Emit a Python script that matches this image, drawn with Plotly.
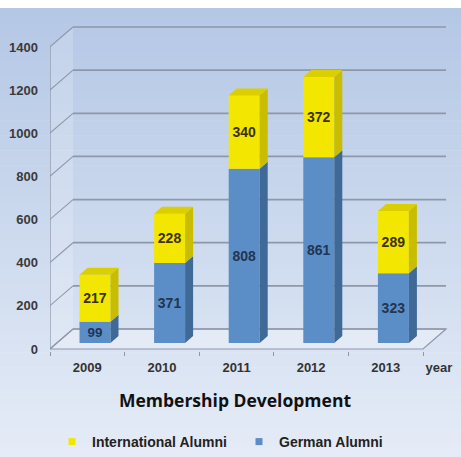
import plotly.graph_objects as go

# ---------------- data ----------------
years = ["2009", "2010", "2011", "2012", "2013"]
german = [99, 371, 808, 861, 323]
international = [217, 228, 340, 372, 289]
y_ticks = [0, 200, 400, 600, 800, 1000, 1200, 1400]
extra_label = "year"

# ---------------- geometry (pixels -> data units) ----------------
W, H = 461, 457
L, R, T, B = 50, 6, 8, 106
plot_w = W - L - R
plot_h = H - T - B
SX = 74.6          # px per category
SY = 0.2157        # px per unit value
FRONT0 = 349       # pixel row of value 0 on front plane

x_lo = -0.5
x_hi = x_lo + plot_w / SX
y_lo = (FRONT0 - (H - B)) / SY
y_hi = (FRONT0 - T) / SY

def ux(px):
    return px / SX

def uy(px):
    return px / SY

WDX, WDY = ux(23), uy(20)      # wall depth
BDX, BDY = ux(8), uy(7)        # bar depth
LIFT = uy(6)                   # bars sit slightly back on floor
OFF, BW = ux(-7.8), ux(31)     # bar front face

xs = list(range(len(years)))
n = len(years)

BLUE, BLUE_SIDE = "#5b8ec7", "#3f6a97"
YEL, YEL_SIDE, YEL_TOP = "#f3e600", "#c9bd00", "#dccf00"
GRID = "#8d98aa"

fig = go.Figure()

# ---------------- background gradient ----------------
shapes = []
top_c = (180, 199, 229)
bot_c = (229, 236, 247)
NB = 60
for k in range(NB):
    p0 = T + (H - T) * k / NB
    p1 = T + (H - T) * (k + 1) / NB + 0.6
    f = (k + 0.5) / NB
    c = tuple(int(round(top_c[j] + (bot_c[j] - top_c[j]) * f)) for j in range(3))
    shapes.append(dict(type="rect", xref="paper", yref="paper",
                       x0=(0 - L) / plot_w, x1=(W - L) / plot_w,
                       y0=((H - B) - p1) / plot_h, y1=((H - B) - p0) / plot_h,
                       fillcolor="rgb(%d,%d,%d)" % c, line=dict(width=0), layer="below"))

xl_front, xr_front = x_lo, x_lo + n
ymax = y_ticks[-1]

# left wall and floor
shapes.append(dict(type="path", xref="x", yref="y", layer="below",
                   path=f"M {xl_front},0 L {xl_front},{ymax} L {xl_front+WDX},{ymax+WDY} L {xl_front+WDX},{WDY} Z",
                   fillcolor="rgba(255,255,255,0.18)", line=dict(width=0)))
shapes.append(dict(type="path", xref="x", yref="y", layer="below",
                   path=f"M {xl_front},0 L {xr_front},0 L {xr_front+WDX},{WDY} L {xl_front+WDX},{WDY} Z",
                   fillcolor="rgba(255,255,255,0.3)", line=dict(color=GRID, width=1.2)))

# back-wall gridlines and diagonals
for v in y_ticks:
    shapes.append(dict(type="line", xref="x", yref="y", layer="below",
                       x0=xl_front + WDX, x1=xr_front + WDX, y0=v + WDY, y1=v + WDY,
                       line=dict(color=GRID, width=1.7)))
    shapes.append(dict(type="line", xref="x", yref="y", layer="below",
                       x0=xl_front - ux(2), x1=xl_front + WDX, y0=v - uy(1.5), y1=v + WDY,
                       line=dict(color=GRID, width=1.1)))
# front vertical axis line
shapes.append(dict(type="line", xref="x", yref="y", layer="below",
                   x0=xl_front, x1=xl_front, y0=0, y1=ymax,
                   line=dict(color=GRID, width=1.3)))

# ---------------- bars (front faces) ----------------
base_g = [LIFT] * n
base_i = [LIFT + g for g in german]

fig.add_trace(go.Bar(x=xs, y=german, base=base_g, offset=OFF, width=BW,
                     marker=dict(color=BLUE, line=dict(width=0)),
                     text=[str(v) for v in german], textposition="inside",
                     insidetextanchor="middle", textangle=0,
                     textfont=dict(family="Liberation Sans", size=14, color="#223552", weight="bold"),
                     showlegend=False, hoverinfo="skip"))
fig.add_trace(go.Bar(x=xs, y=international, base=base_i, offset=OFF, width=BW,
                     marker=dict(color=YEL, line=dict(width=0)),
                     text=[str(v) for v in international], textposition="inside",
                     insidetextanchor="middle", textangle=0,
                     textfont=dict(family="Liberation Sans", size=14, color="#3a3300", weight="bold"),
                     showlegend=False, hoverinfo="skip"))

# ---------------- 3D side / top faces ----------------
def side_poly(xr, b, t):
    return [xr, xr, xr + BDX, xr + BDX, None], [b, t, t + BDY, b + BDY, None]

bx, by, yx, yy, tx, ty = [], [], [], [], [], []
for i in xs:
    xl = i + OFF
    xr = xl + BW
    b0 = base_g[i]
    t0 = b0 + german[i]
    t1 = t0 + international[i]
    px_, py_ = side_poly(xr, b0, t0)
    bx += px_; by += py_
    px_, py_ = side_poly(xr, t0, t1)
    yx += px_; yy += py_
    tx += [xl, xr, xr + BDX, xl + BDX, None]
    ty += [t1, t1, t1 + BDY, t1 + BDY, None]

for X, Y, c in [(bx, by, BLUE_SIDE), (yx, yy, YEL_SIDE), (tx, ty, YEL_TOP)]:
    fig.add_trace(go.Scatter(x=X, y=Y, fill="toself", fillcolor=c, mode="lines",
                             line=dict(width=0, color=c), showlegend=False, hoverinfo="skip"))

# ---------------- legend entries ----------------
fig.add_trace(go.Scatter(x=[None], y=[None], mode="markers", name="International Alumni",
                         marker=dict(symbol="square", size=7, color=YEL)))
fig.add_trace(go.Scatter(x=[None], y=[None], mode="markers", name="German Alumni",
                         marker=dict(symbol="square", size=7, color=BLUE)))

fig.update_layout(
    width=W, height=H,
    margin=dict(l=L, r=R, t=T, b=B, pad=0),
    paper_bgcolor="white", plot_bgcolor="rgba(0,0,0,0)",
    barmode="overlay",
    shapes=shapes,
    title=dict(text="<b>Membership Development</b>", xref="container", yref="container",
               x=235 / W, y=1 - 401 / H, xanchor="center", yanchor="middle",
               font=dict(family="Open Sans", size=17.5, color="#111111")),
    legend=dict(orientation="h", xref="container", yref="container",
                x=52 / W, y=1 - 442 / H, xanchor="left", yanchor="middle",
                font=dict(family="Liberation Sans", size=14, color="#222222", weight="bold"),
                bgcolor="rgba(0,0,0,0)", itemwidth=30, entrywidth=142),
    xaxis=dict(range=[x_lo, x_hi], tickmode="array",
               tickvals=xs + [4.714], ticktext=years + [extra_label],
               showgrid=False, zeroline=False, showline=False, ticks="",
               ticklabelstandoff=7,
               tickfont=dict(family="Liberation Sans", size=13, color="#333333", weight="bold"),
               minor=dict(tickmode="array", tickvals=[x_lo + k for k in range(n + 1)],
                          ticks="outside", ticklen=4, tickcolor=GRID, tickwidth=1),
               fixedrange=True),
    yaxis=dict(range=[y_lo, y_hi], tickmode="array", tickvals=y_ticks,
               ticktext=[str(v) for v in y_ticks],
               showgrid=False, zeroline=False, showline=False, ticks="",
               ticklabelstandoff=11,
               tickfont=dict(family="Liberation Sans", size=13, color="#3a3a3a", weight="bold"),
               fixedrange=True),
)

fig.write_html("out.html")
